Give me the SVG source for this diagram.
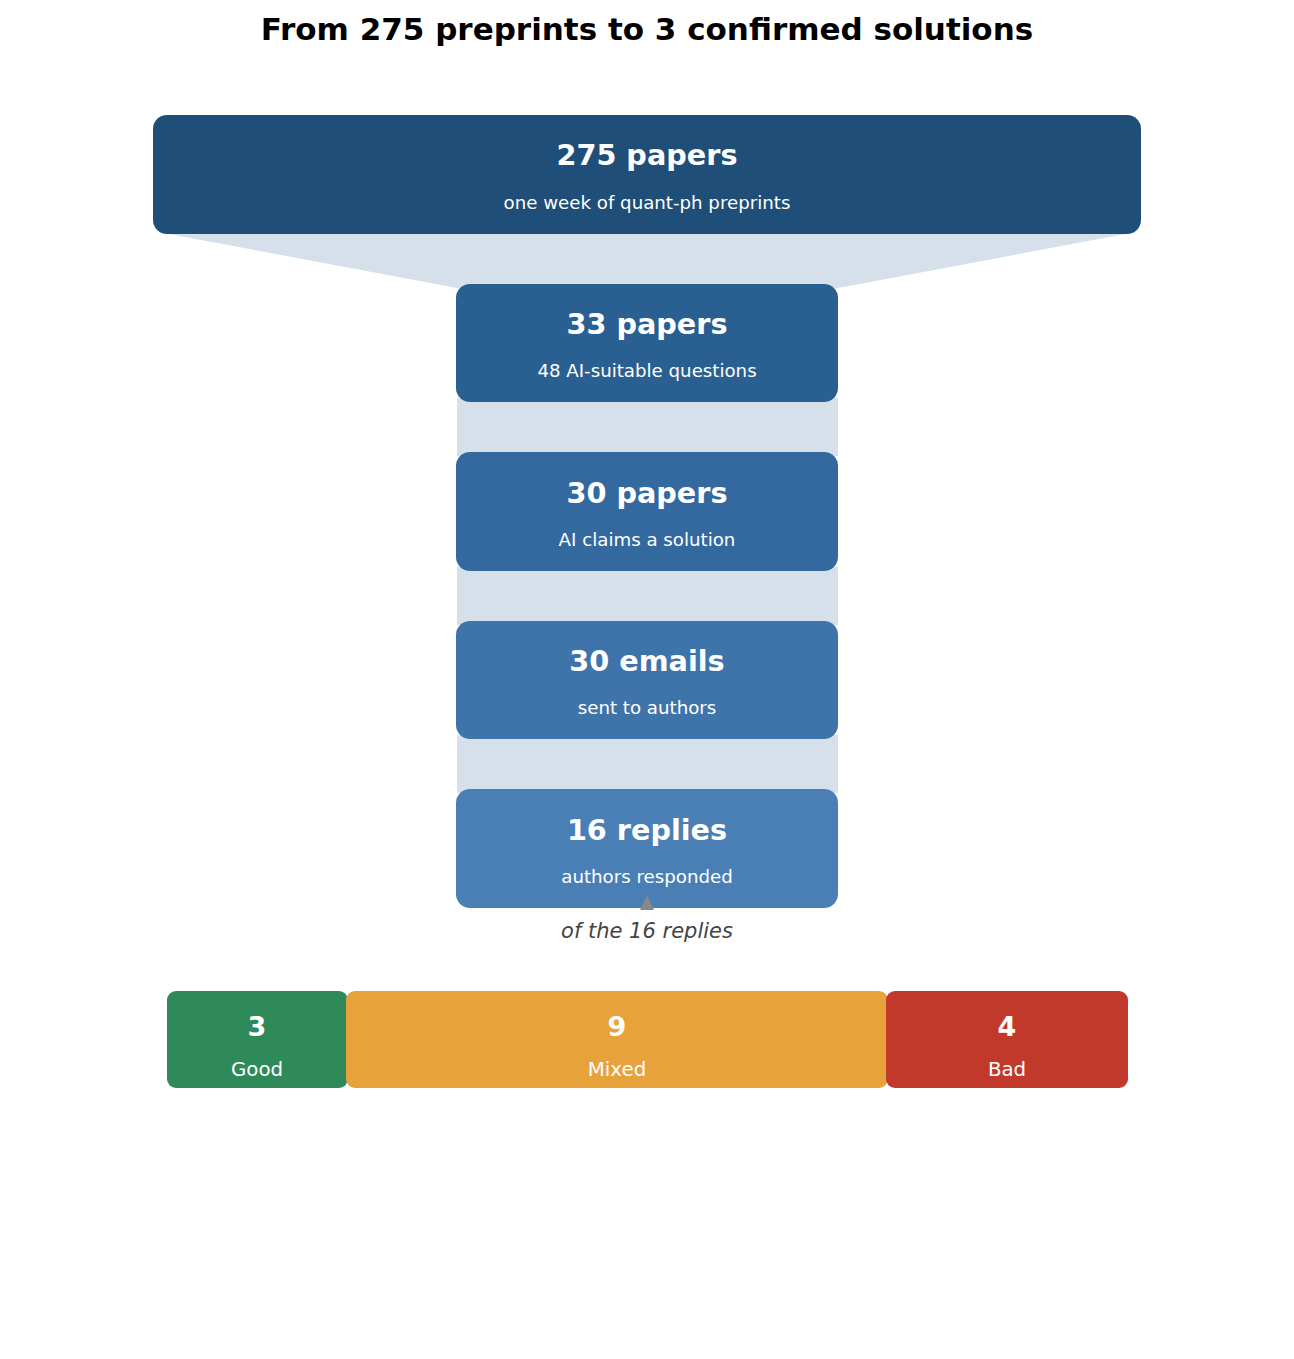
<svg xmlns="http://www.w3.org/2000/svg" width="1294" height="1359" viewBox="0 0 1294 1359">
<style>
text{font-family:"DejaVu Sans","Liberation Sans",sans-serif;text-anchor:middle;fill:#fff}
.t{font-size:31px;font-weight:bold;fill:#000}
.h{font-size:28.7px;font-weight:bold}
.s{font-size:18.2px}
.bh{font-size:27px;font-weight:bold}
.bs{font-size:19.8px}
.note{font-size:21px;font-style:italic;fill:#444}
.link{fill:#d6e0ea}
</style>
<rect width="1294" height="1359" fill="#fff"/>
<text class="t" x="647" y="40">From 275 preprints to 3 confirmed solutions</text>
<g id="connectors">
<polygon class="link" points="158,232 1136,232 838,288 457,288"/>
<rect class="link" x="457" y="398" width="381" height="58"/>
<rect class="link" x="457" y="567" width="381" height="58"/>
<rect class="link" x="457" y="735" width="381" height="58"/>
</g>
<g id="n1"><rect x="153" y="115" width="988" height="119" rx="14" fill="#1f4e78"/>
<text class="h" x="647" y="165">275 papers</text><text class="s" x="647" y="209">one week of quant-ph preprints</text></g>
<g id="n2"><rect x="456" y="284" width="382" height="118" rx="14" fill="#2a5f92"/>
<text class="h" x="647" y="334">33 papers</text><text class="s" x="647" y="377">48 AI-suitable questions</text></g>
<g id="n3"><rect x="456" y="452" width="382" height="119" rx="14" fill="#34699f"/>
<text class="h" x="647" y="503">30 papers</text><text class="s" x="647" y="546">AI claims a solution</text></g>
<g id="n4"><rect x="456" y="621" width="382" height="118" rx="14" fill="#3f74ab"/>
<text class="h" x="647" y="671">30 emails</text><text class="s" x="647" y="714">sent to authors</text></g>
<g id="n5"><rect x="456" y="789" width="382" height="119" rx="14" fill="#4a7fb6"/>
<text class="h" x="647" y="840">16 replies</text><text class="s" x="647" y="883">authors responded</text></g>
<g id="pointer"><polygon points="640,910 654,910 647,895" fill="#888"/></g>
<text class="note" x="647" y="938">of the 16 replies</text>
<g id="good"><rect x="167" y="991" width="181" height="97" rx="9" fill="#2e8a59"/>
<text class="bh" x="257" y="1036">3</text><text class="bs" x="257" y="1076">Good</text></g>
<g id="mixed"><rect x="346" y="991" width="542" height="97" rx="9" fill="#e7a23c"/>
<text class="bh" x="617" y="1036">9</text><text class="bs" x="617" y="1076">Mixed</text></g>
<g id="bad"><rect x="886" y="991" width="242" height="97" rx="9" fill="#c0392b"/>
<text class="bh" x="1007" y="1036">4</text><text class="bs" x="1007" y="1076">Bad</text></g>
</svg>
